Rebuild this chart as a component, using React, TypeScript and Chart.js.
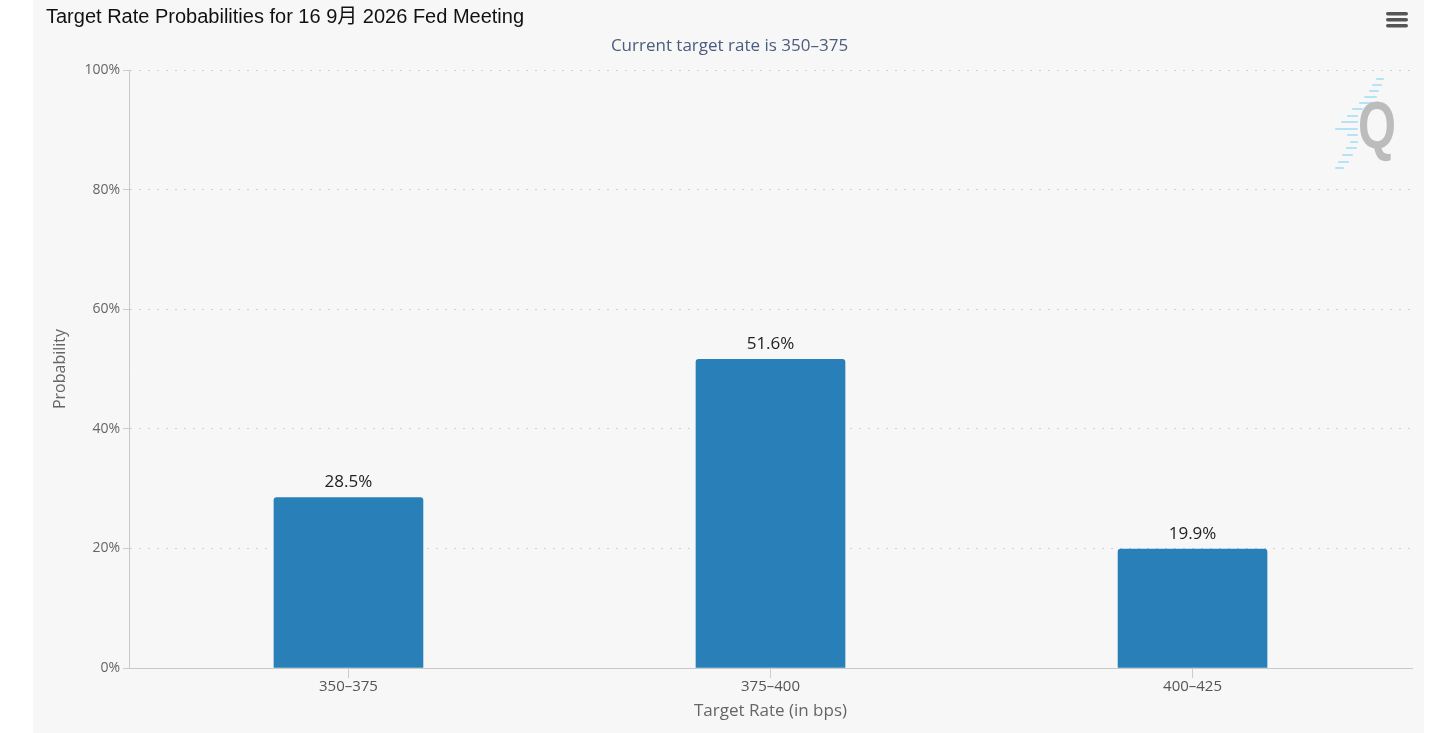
import React, { useEffect, useRef } from "react";
import { Chart, registerables } from "chart.js";

Chart.register(...registerables);

const categories = ["350–375", "375–400", "400–425"];
const probabilities = [28.5, 51.6, 19.9];
const yTicks = [0, 20, 40, 60, 80, 100];

const TITLE = "Target Rate Probabilities for 16 9月 2026 Fed Meeting";
const SUBTITLE = "Current target rate is 350–375";
const Y_TITLE = "Probability";
const X_TITLE = "Target Rate (in bps)";

// decorative logo streaks (canvas coords): [x1, x2, y]
const logoStreaks: [number, number, number][] = [
  [1344, 1350, 79], [1340, 1348, 85], [1337, 1345, 91], [1332, 1343, 97],
  [1327, 1341, 103], [1320, 1329, 109], [1315, 1324, 116], [1309, 1324, 122],
  [1303, 1324, 129], [1315, 1324, 135], [1318, 1324, 142], [1314, 1323, 148],
  [1310, 1319, 155], [1306, 1315, 162], [1303, 1310, 168],
];

const decorPlugin = {
  id: "decor",
  beforeDraw(chart: any) {
    const ctx = chart.ctx;
    ctx.save();
    ctx.strokeStyle = "rgba(150, 218, 242, 0.7)";
    ctx.lineWidth = 2;
    ctx.lineCap = "round";
    logoStreaks.forEach(([x1, x2, y]) => {
      ctx.beginPath();
      ctx.moveTo(x1, y);
      ctx.lineTo(x2, y);
      ctx.stroke();
    });
    ctx.fillStyle = "#bcbcbc";
    ctx.font = "bold 66px 'Liberation Sans', Arial, sans-serif";
    ctx.textBaseline = "alphabetic";
    ctx.textAlign = "left";
    ctx.translate(1325, 148);
    ctx.scale(0.74, 1);
    ctx.fillText("Q", 0, 0);
    ctx.restore();
  },
  afterDraw(chart: any) {
    const ctx = chart.ctx;
    const area = chart.chartArea;
    ctx.save();
    ctx.fillStyle = "#111";
    ctx.font = "20px 'Liberation Sans', Arial, 'Noto Sans CJK SC', sans-serif";
    ctx.textAlign = "left";
    ctx.textBaseline = "alphabetic";
    ctx.fillText(TITLE, 13, 23);
    ctx.fillStyle = "#4b5c7d";
    ctx.font = "17px 'Open Sans', sans-serif";
    ctx.textAlign = "center";
    ctx.textBaseline = "middle";
    ctx.fillText(SUBTITLE, (area.left + area.right) / 2 - 41, 46);
    ctx.fillStyle = "#666";
    ctx.font = "17px 'Open Sans', sans-serif";
    ctx.fillText(X_TITLE, (area.left + area.right) / 2, 711);
    ctx.save();
    ctx.translate(27, (area.top + area.bottom) / 2);
    ctx.rotate(-Math.PI / 2);
    ctx.font = "16px 'Open Sans', sans-serif";
    ctx.fillText(Y_TITLE, 0, 0);
    ctx.restore();
    ctx.fillStyle = "#555";
    [12, 18, 24].forEach((y) => {
      ctx.beginPath();
      ctx.roundRect(1353, y, 22, 3.5, 1.75);
      ctx.fill();
    });
    const meta = chart.getDatasetMeta(0);
    ctx.fillStyle = "#222";
    ctx.font = "17px 'Open Sans', sans-serif";
    ctx.textAlign = "center";
    ctx.textBaseline = "middle";
    meta.data.forEach((el: any, i: number) => {
      ctx.fillText(`${probabilities[i]}%`, el.x, el.y - 15);
    });
    ctx.restore();
  },
};

export default function App() {
  const ref = useRef<HTMLCanvasElement>(null);
  useEffect(() => {
    if (!ref.current) return;
    const chart = new Chart(ref.current, {
      type: "bar",
      data: {
        datasets: [
          {
            data: probabilities.map((v, i) => ({ x: i, y: v })),
            backgroundColor: "#2980b9",
            borderRadius: { topLeft: 3, topRight: 3, bottomLeft: 0, bottomRight: 0 },
            borderSkipped: false,
            barThickness: 149,
          },
        ],
      },
      options: {
        responsive: false,
        animation: false,
        layout: { padding: { left: 0, right: 12, top: 70, bottom: 0 } },
        plugins: { legend: { display: false }, tooltip: { enabled: false }, title: { display: false } },
        scales: {
          x: {
            type: "linear",
            min: -0.52,
            max: 2.52,
            offset: false,
            afterBuildTicks: (s: any) => {
              s.ticks = categories.map((_, i) => ({ value: i }));
            },
            afterFit: (s: any) => {
              s.height = 65;
            },
            ticks: {
              includeBounds: false,
              stepSize: 1,
              padding: 0,
              color: "#555",
              font: { family: "'Open Sans', sans-serif", size: 15 },
              callback: (v: any) => categories[v] ?? "",
              maxRotation: 0,
            },
            grid: {
              display: true,
              offset: false,
              drawOnChartArea: false,
              drawTicks: true,
              tickLength: 10,
              color: "#cccccc",
            },
            border: { display: true, color: "#c8c8c8", width: 1 },
          },
          y: {
            min: 0,
            max: 100,
            afterBuildTicks: (s: any) => {
              s.ticks = yTicks.map((v) => ({ value: v }));
            },
            afterFit: (s: any) => {
              s.width = 96;
            },
            ticks: {
              padding: 3,
              color: "#666",
              font: { family: "'Open Sans', sans-serif", size: 14 },
              callback: (v: any) => `${v}%`,
            },
            grid: {
              color: "#cfcfcf",
              lineWidth: 1,
              tickLength: 6,
              tickColor: "#cccccc",
              tickBorderDash: [],
            },
            border: { display: true, color: "#c8c8c8", width: 1, dash: [2, 7] },
          },
        },
      },
      plugins: [decorPlugin],
    } as any);
    return () => chart.destroy();
  }, []);
  return (
    <div style={{ position: "absolute", left: 0, top: 0, width: 1430, height: 733, background: "#fff", overflow: "hidden" }}>
      <div style={{ position: "absolute", left: 33, top: 0, width: 1391, height: 733, background: "#f7f7f7" }}>
        <canvas ref={ref} width={1391} height={733} style={{ display: "block", width: 1391, height: 733 }} />
      </div>
    </div>
  );
}
